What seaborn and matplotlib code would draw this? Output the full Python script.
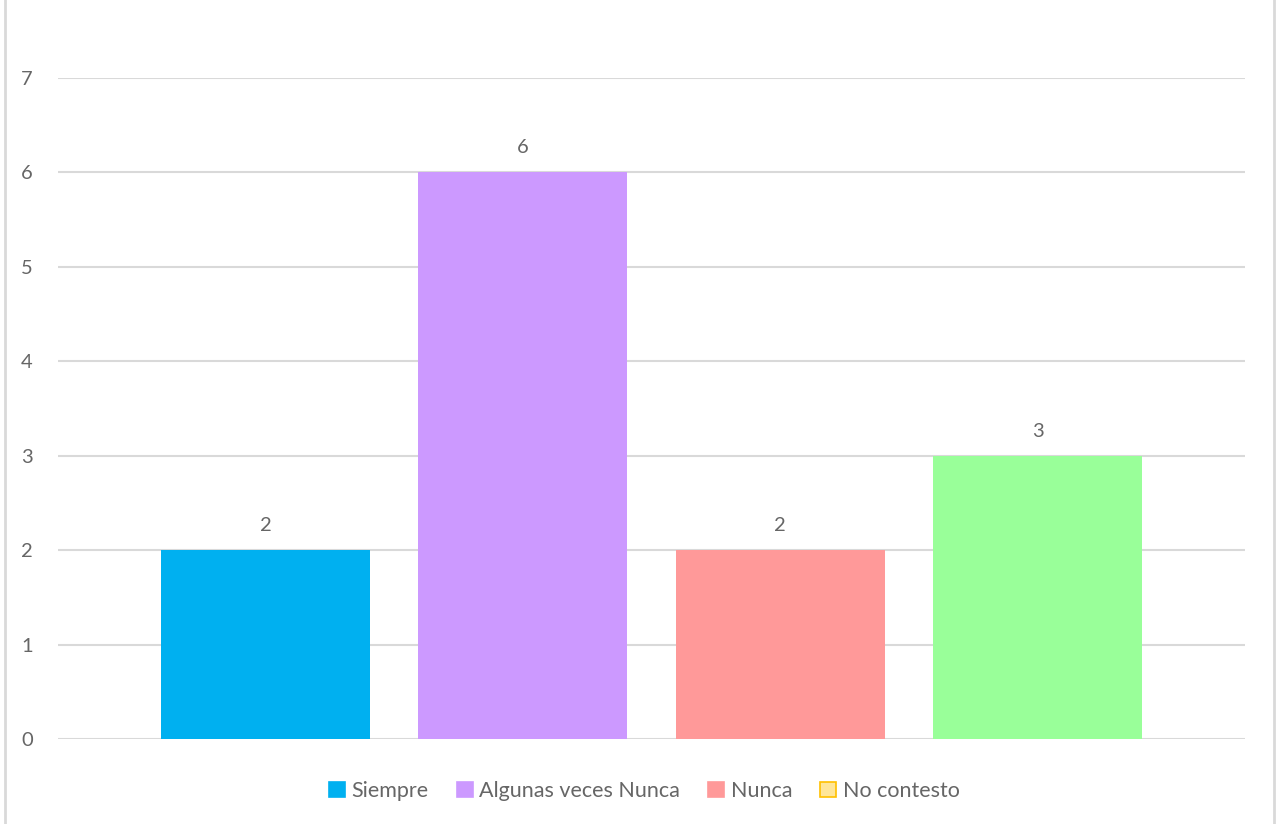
import pandas as pd
import seaborn as sns
import matplotlib.pyplot as plt
from matplotlib.patches import Patch, Rectangle

# Data
categories = ['Siempre', 'Algunas veces Nunca', 'Nunca', 'No contesto']
values = [2, 6, 2, 3]
bar_colors = ['#00B0F0', '#CC99FF', '#FF9999', '#99FF99']
legend_colors = ['#00B0F0', '#CC99FF', '#FF9999', '#FFE699']
legend_edges = ['#00B0F0', '#CC99FF', '#FF9999', '#FFC000']

df = pd.DataFrame({'cat': categories, 'val': values})

sns.set_style('white')
plt.rcParams['font.family'] = ['Lato', 'DejaVu Sans']
text_gray = '#666666'

fig = plt.figure(figsize=(12.77, 8.24), dpi=100)
ax = fig.add_axes([0.0454, 0.1032, 0.9296, 0.8021])

sns.barplot(data=df, x='cat', y='val', hue='cat', palette=bar_colors,
            width=0.812, legend=False, ax=ax, saturation=1, linewidth=0)

for i, v in enumerate(values):
    ax.text(i, v + 0.17, str(v), ha='center', va='bottom', fontsize=14.5, color=text_gray)

ax.set_ylim(0, 7)
ax.set_xlim(-0.806, 3.806)
ax.set_yticks(range(0, 8))
ax.yaxis.grid(True, color='#D9D9D9', linewidth=1.5)
ax.set_axisbelow(True)
ax.tick_params(axis='y', labelsize=14.5, labelcolor=text_gray, length=0, pad=18)
ax.set_xticks([])
ax.set_xlabel('')
ax.set_ylabel('')
for s in ax.spines.values():
    s.set_visible(False)

handles = [Patch(facecolor=c, edgecolor=e, linewidth=1.2) for c, e in zip(legend_colors, legend_edges)]
fig.legend(handles, categories, loc='center', bbox_to_anchor=(0.5045, 0.04), ncol=4,
           frameon=False, fontsize=15.5, handlelength=0.75, handleheight=0.75,
           handletextpad=0.3, columnspacing=1.3, labelcolor=text_gray)

# outer chart border
fig.patches.append(Rectangle((5 / 1277, -0.01), 1269 / 1277, 1.02, transform=fig.transFigure,
                             fill=False, edgecolor='#D9D9D9', linewidth=2))

fig.savefig('out.png', dpi=100)
